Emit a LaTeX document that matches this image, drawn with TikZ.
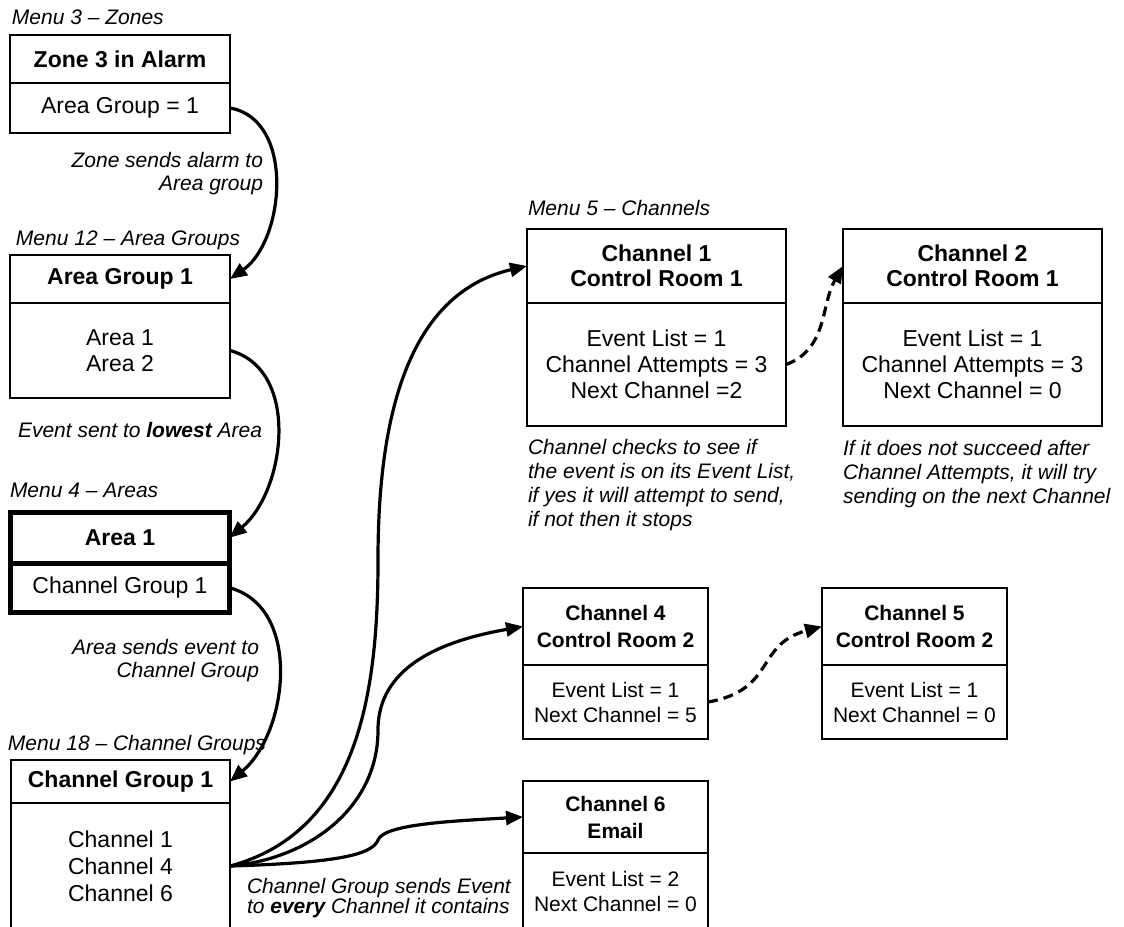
\documentclass[tikz,border=0pt]{standalone}
\usepackage{fontspec}
\setmainfont{Liberation Sans}
\usetikzlibrary{positioning,arrows.meta}

\begin{document}
\begin{tikzpicture}[x=1pt,y=1pt,
    every node/.style={inner sep=0pt, outer sep=0pt},
    cell/.style={draw, line width=2pt, align=center},
    head/.style={cell, font=\fontsize{23}{25}\selectfont\bfseries},
    body/.style={cell, font=\fontsize{23}{26}\selectfont},
    shead/.style={cell, font=\fontsize{21}{27}\selectfont\bfseries},
    sbody/.style={cell, font=\fontsize{21}{25}\selectfont},
    heavy/.style={line width=5pt},
    note/.style={font=\fontsize{21}{23}\selectfont\itshape, align=left},
    link/.style={line width=3.2pt, -{Triangle[length=17pt,width=14pt]}},
    retry/.style={link, dash pattern=on 10pt off 6pt}]
    \useasboundingbox (0,0) rectangle (1124,-926);
    \clip (0,0) rectangle (1124,-926);

    % menu 3 - zones
    \node[note, anchor=base west] (m3) at (12,-24) {Menu 3 – Zones};
    \node[head, minimum width=220pt, minimum height=48pt, anchor=north west] (zt) at (10,-35) {Zone 3 in Alarm};
    \node[body, minimum width=220pt, minimum height=50pt, below=0pt of zt] (zb) {Area Group = 1};
    \node[note, anchor=east, align=right] (zn) at (263,-173.5) {Zone sends alarm to\\Area group};

    % menu 12 - area groups
    \node[note, anchor=base west] (m12) at (16,-245) {Menu 12 – Area Groups};
    \node[head, minimum width=220pt, minimum height=48pt, anchor=north west] (gt) at (10,-255) {Area Group 1};
    \node[body, minimum width=220pt, minimum height=95pt, below=0pt of gt] (gb) {Area 1\\Area 2};
    \node[note, anchor=base west] (gn) at (18,-437) {Event sent to \textbf{lowest} Area};

    % menu 4 - areas
    \node[note, anchor=base west] (m4) at (10,-497) {Menu 4 – Areas};
    \node[head, heavy, minimum width=219pt, minimum height=50.5pt, anchor=north west] (at) at (10.5,-512.5) {Area 1};
    \node[body, heavy, minimum width=219pt, minimum height=49.5pt, below=0pt of at] (ab) {Channel Group 1};
    \node[note, anchor=east, align=right] (an) at (259,-660.5) {Area sends event to\\Channel Group};

    % menu 18 - channel groups
    \node[note, anchor=base west] (m18) at (8,-750) {Menu 18 – Channel Groups};
    \node[head, minimum width=219pt, minimum height=43pt, anchor=north west] (ct) at (11,-760) {Channel Group 1};
    \node[body, font=\fontsize{23}{27}\selectfont, minimum width=219pt, minimum height=126pt, below=0pt of ct] (cb) {Channel 1\\Channel 4\\Channel 6};
    \node[note, font=\fontsize{21}{20}\selectfont\itshape, anchor=west] (cn) at (247,-898) {Channel Group sends Event\\to \textbf{every} Channel it contains};

    % menu 5 - channels
    \node[note, anchor=base west] (m5) at (528,-215) {Menu 5 – Channels};
    \node[head, minimum width=259pt, minimum height=74pt, anchor=north west] (c1t) at (527,-229) {Channel 1\\Control Room 1};
    \node[body, minimum width=259pt, minimum height=123pt, below=0pt of c1t] (c1b) {Event List = 1\\Channel Attempts = 3\\Next Channel =2};
    \node[note, font=\fontsize{21}{24}\selectfont\itshape, anchor=west] (c1n) at (528,-485) {Channel checks to see if\\the event is on its Event List,\\if yes it will attempt to send,\\if not then it stops};

    \node[head, minimum width=259pt, minimum height=74pt, anchor=north west] (c2t) at (843,-229) {Channel 2\\Control Room 1};
    \node[body, minimum width=259pt, minimum height=123pt, below=0pt of c2t] (c2b) {Event List = 1\\Channel Attempts = 3\\Next Channel = 0};
    \node[note, font=\fontsize{21}{24}\selectfont\itshape, anchor=west] (c2n) at (843,-474) {If it does not succeed after\\Channel Attempts, it will try\\sending on the next Channel};

    \node[shead, minimum width=185pt, minimum height=77pt, anchor=north west] (c4t) at (523,-588) {Channel 4\\Control Room 2};
    \node[sbody, minimum width=185pt, minimum height=74pt, below=0pt of c4t] (c4b) {Event List = 1\\Next Channel = 5};

    \node[shead, minimum width=185pt, minimum height=77pt, anchor=north west] (c5t) at (822,-588) {Channel 5\\Control Room 2};
    \node[sbody, minimum width=185pt, minimum height=74pt, below=0pt of c5t] (c5b) {Event List = 1\\Next Channel = 0};

    \node[shead, minimum width=185pt, minimum height=72pt, anchor=north west] (c6t) at (523,-781) {Channel 6\\Email};
    \node[sbody, minimum width=185pt, minimum height=76pt, below=0pt of c6t] (c6b) {Event List = 2\\Next Channel = 0};

    % bends of the fan-out
    \coordinate (bend1) at (378,-560);
    \coordinate (bend2) at (378,-730);
    \coordinate (bend3) at (378,-840);

    % left chain
    \draw[link] (zb.east) to[out=-10,in=35] (gt.east);
    \draw[link] (gb.east) to[out=-15,in=40] (at.east);
    \draw[link] (ab.east) to[out=-15,in=40] (ct.east);

    % channel group to channels
    \draw[link] (cb.east) to[out=15,in=-90] (bend1) to[out=90,in=193] (c1t.west);
    \draw[link] (cb.east) to[out=5,in=-90] (bend2) to[out=90,in=190] (c4t.west);
    \draw[link] (cb.east) .. controls +(100,3) and +(-6,-16) .. (bend3) .. controls +(6,16) and +(-70,-4) .. (c6t.west);

    % next channel
    \draw[retry] (c1b.east) to[out=20,in=240] (c2t.west);
    \draw[retry] (c4b.east) to[out=10,in=195,looseness=1.3] (c5t.west);
\end{tikzpicture}
\end{document}
